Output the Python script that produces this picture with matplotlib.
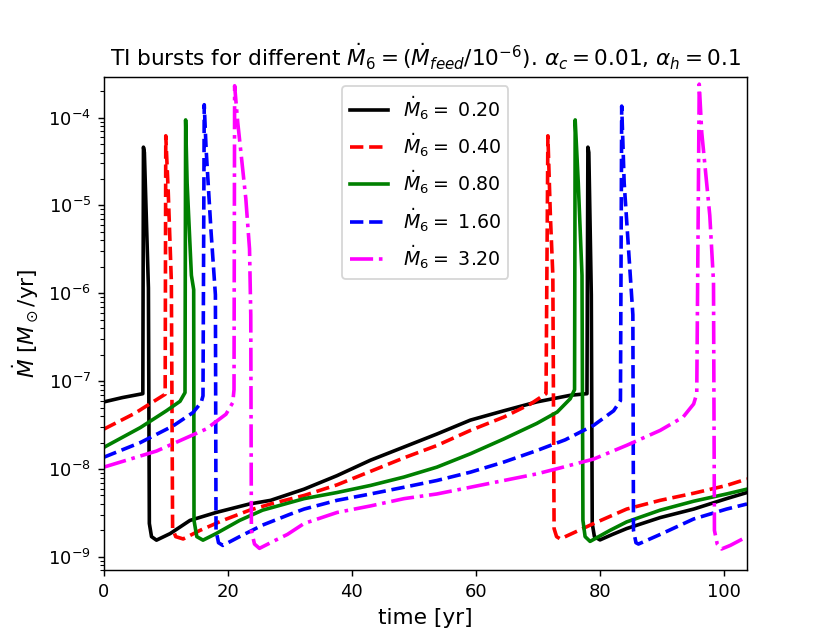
import matplotlib
matplotlib.use("Agg")
import matplotlib.pyplot as plt

# time [yr] and Mdot [Msun/yr], one list per feeding rate
t_020 = [0, 3, 6.3, 6.4, 6.55, 7.2, 7.35, 7.7, 8.5, 10.7, 13.9, 18.1, 23.5, 26.9, 32.3,
         37.6, 43.0, 48.4, 53.7, 59.1, 64.5, 69.8, 75.2, 77.9, 78.05, 78.2, 78.6, 78.75,
         79.1, 80.0, 82.0, 84.3, 89.7, 95.1, 100.4, 103.7]
m_020 = [5.8e-8, 6.5e-8, 7.2e-8, 4.6e-5, 4.0e-5, 1.15e-6, 2.4e-9, 1.7e-9, 1.55e-9, 1.84e-9,
         2.6e-9, 3.2e-9, 4.0e-9, 4.4e-9, 5.9e-9, 8.4e-9, 1.26e-8, 1.78e-8, 2.5e-8, 3.6e-8,
         4.6e-8, 5.8e-8, 6.9e-8, 7.2e-8, 4.6e-5, 4.0e-5, 9.6e-7, 2.4e-9, 1.7e-9, 1.56e-9,
         1.8e-9, 2.1e-9, 2.8e-9, 3.5e-9, 4.6e-9, 5.4e-9]

t_040 = [0, 5, 9.9, 10.0, 10.4, 10.9, 11.1, 11.6, 12.8, 15.5, 19.2, 23.5, 26.9, 32.3, 37.6,
         43.0, 48.4, 53.7, 59.1, 64.5, 68.8, 71.3, 71.6, 72.0, 72.4, 72.6, 73.0, 73.6, 79.0,
         84.3, 89.7, 95.1, 100.4, 103.7]
m_040 = [2.84e-8, 4.3e-8, 7.1e-8, 6.2e-5, 1.4e-5, 1.35e-6, 2.1e-9, 1.7e-9, 1.6e-9, 2.0e-9,
         2.6e-9, 3.4e-9, 4.0e-9, 5.0e-9, 6.6e-9, 9.4e-9, 1.34e-8, 1.85e-8, 2.75e-8, 3.9e-8,
         5.5e-8, 7.2e-8, 6.2e-5, 7.7e-6, 1.6e-6, 2.1e-9, 1.7e-9, 1.6e-9, 2.4e-9, 3.5e-9,
         4.4e-9, 5.3e-9, 6.5e-9, 7.7e-9]

t_080 = [0, 5.9, 10.1, 12.3, 13.1, 13.2, 13.44, 14.13, 14.5, 14.55, 15.0, 16.0, 18.1, 21.9,
         25.6, 32.3, 37.6, 43.0, 48.4, 53.7, 59.1, 64.5, 69.8, 73.1, 75.2, 75.9, 76.0, 76.5,
         77.1, 77.25, 77.6, 78.4, 81.6, 84.3, 89.7, 95.1, 100.4, 103.7]
m_080 = [1.76e-8, 2.96e-8, 4.6e-8, 5.9e-8, 7.4e-8, 9.4e-5, 1.8e-5, 1.6e-6, 1.1e-6, 2.6e-9,
         1.7e-9, 1.55e-9, 1.84e-9, 2.6e-9, 3.4e-9, 4.6e-9, 5.4e-9, 6.5e-9, 8.1e-9, 1.05e-8,
         1.49e-8, 2.2e-8, 3.3e-8, 4.45e-8, 6.3e-8, 8.0e-8, 9.4e-5, 1.8e-5, 1.6e-6, 2.6e-9,
         1.7e-9, 1.5e-9, 2.0e-9, 2.5e-9, 3.4e-9, 4.3e-9, 5.2e-9, 5.9e-9]

t_160 = [0, 5.9, 11.2, 14.4, 15.7, 16.0, 16.2, 16.5, 17.3, 18.0, 18.1, 18.5, 19.2, 21.9, 25.6,
         30.0, 32.3, 37.6, 43.0, 48.4, 53.7, 59.1, 64.5, 69.8, 74.4, 79.0, 82.2, 83.3, 83.5,
         83.9, 84.6, 85.3, 85.4, 85.8, 86.2, 89.7, 95.1, 100.4, 103.7]
m_160 = [1.36e-8, 2.0e-8, 3.1e-8, 4.4e-8, 5.7e-8, 6.8e-8, 1.4e-4, 4.4e-5, 5.0e-6, 9.6e-7,
         2.0e-9, 1.45e-9, 1.35e-9, 1.7e-9, 2.3e-9, 3.05e-9, 3.5e-9, 4.4e-9, 5.2e-9, 6.2e-9,
         7.4e-9, 9.2e-9, 1.2e-8, 1.62e-8, 2.15e-8, 3.15e-8, 4.6e-8, 6.0e-8, 1.35e-4, 1.8e-5,
         3.2e-6, 5.7e-7, 2.0e-9, 1.45e-9, 1.4e-9, 1.8e-9, 2.7e-9, 3.5e-9, 4.0e-9]

t_320 = [0, 8.5, 16.5, 19.7, 20.8, 21.0, 21.1, 21.6, 22.9, 23.5, 23.7, 23.8, 24.3, 25.1, 27.7,
         29.6, 32.3, 37.6, 43.0, 48.4, 53.7, 59.1, 64.5, 69.8, 73.6, 79.0, 84.3, 89.7, 93.4,
         95.1, 95.6, 96.0, 96.4, 97.7, 98.3, 98.45, 98.9, 99.6, 101.0, 103.7]
m_320 = [1.05e-8, 1.6e-8, 2.85e-8, 4.2e-8, 5.7e-8, 8.0e-8, 2.3e-4, 8.8e-5, 1.2e-5, 3.2e-6,
         5.7e-7, 2.0e-9, 1.4e-9, 1.25e-9, 1.55e-9, 1.8e-9, 2.4e-9, 3.2e-9, 3.8e-9, 4.6e-9,
         5.2e-9, 6.2e-9, 7.4e-9, 8.8e-9, 1.03e-8, 1.3e-8, 1.86e-8, 2.75e-8, 3.9e-8, 5.5e-8,
         7.2e-8, 2.4e-4, 6.8e-5, 7.7e-6, 1.35e-6, 2.0e-9, 1.4e-9, 1.23e-9, 1.35e-9, 1.7e-9]

mdot6 = [0.20, 0.40, 0.80, 1.60, 3.20]
times = [t_020, t_040, t_080, t_160, t_320]
rates = [m_020, m_040, m_080, m_160, m_320]
colors = ["black", "red", "green", "blue", "magenta"]
lstyles = ["-", "--", "-", "--", "-."]

fig = plt.figure(figsize=(830 / 130, 641 / 130), dpi=130)
ax = fig.add_subplot(111)

for m6, t, m, c, ls in zip(mdot6, times, rates, colors, lstyles):
    ax.plot(t, m, color=c, ls=ls, lw=2, label=r"$\dot{M}_6 = $ %.2f" % m6)

ax.set_yscale("log")
ax.set_xlim(0, 103.7)
ax.set_ylim(7e-10, 2.9e-4)
ax.set_xlabel("time [yr]", fontsize=12)
ax.set_ylabel(r"$\dot{M}$ [$M_\odot$/yr]", fontsize=12)
ax.set_title(r"TI bursts for different $\dot{M}_6=(\dot{M}_{feed}/10^{-6})$. "
             r"$\alpha_c=0.01$, $\alpha_h=0.1$")
ax.legend(loc="upper center", fontsize=10.5)

fig.savefig("out.png", dpi=130)
